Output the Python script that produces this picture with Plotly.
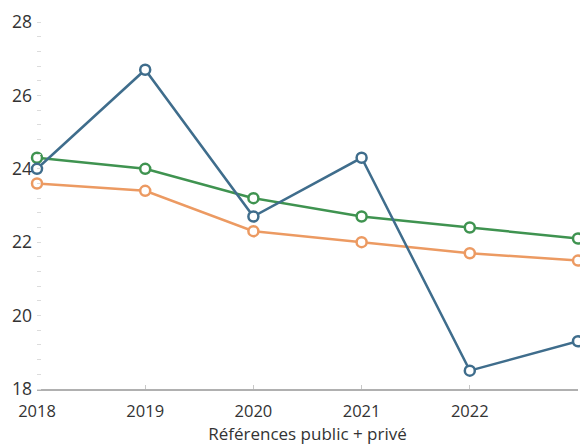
import plotly.graph_objects as go

years = [2018, 2019, 2020, 2021, 2022, 2023]
blue_vals = [24.0, 26.7, 22.7, 24.3, 18.5, 19.3]
green_vals = [24.3, 24.0, 23.2, 22.7, 22.4, 22.1]
orange_vals = [23.6, 23.4, 22.3, 22.0, 21.7, 21.5]
tick_years = [2018, 2019, 2020, 2021, 2022]
y_ticks = [18, 20, 22, 24, 26, 28]
x_title = "Références public + privé"

fig = go.Figure()
series = [
    (orange_vals, "#ec9a62"),
    (green_vals, "#3f9350"),
    (blue_vals, "#3f6d8c"),
]
for vals, col in series:
    fig.add_trace(go.Scatter(
        x=years, y=vals, mode="lines+markers",
        line=dict(color=col, width=2.5),
        marker=dict(symbol="circle", size=10, color="white",
                    line=dict(color=col, width=2.5)),
        cliponaxis=False, showlegend=False, hoverinfo="skip",
    ))

font = "Open Sans, sans-serif"
fig.update_layout(
    width=580, height=448,
    margin=dict(l=37, r=2, t=22, b=59),
    paper_bgcolor="white", plot_bgcolor="white",
    font=dict(family=font, size=16, color="#333333"),
    xaxis=dict(
        range=[2018, 2023], tickvals=tick_years,
        ticktext=[str(y) for y in tick_years],
        showgrid=False, zeroline=False,
        showline=True, linecolor="#b0b0b0", linewidth=1.5,
        ticks="inside", ticklen=4, tickcolor="#c8c8c8",
        ticklabelstandoff=6,
        tickfont=dict(size=16.5, color="#333333"),
        title=dict(text=x_title, font=dict(size=17, color="#333333"), standoff=4),
    ),
    yaxis=dict(
        range=[18, 28], tickvals=y_ticks,
        showgrid=False, zeroline=False, showline=False,
        ticks="", tickfont=dict(size=17.5, color="#333333"),
        ticklabelstandoff=4,
        minor=dict(dtick=0.4, ticks="inside", ticklen=4, tickcolor="#dcdcdc"),
    ),
)
fig.write_html(
    "out.html",
    config={"displayModeBar": False},
    post_script="document.body.style.margin='0';document.body.style.overflow='hidden';",
)
